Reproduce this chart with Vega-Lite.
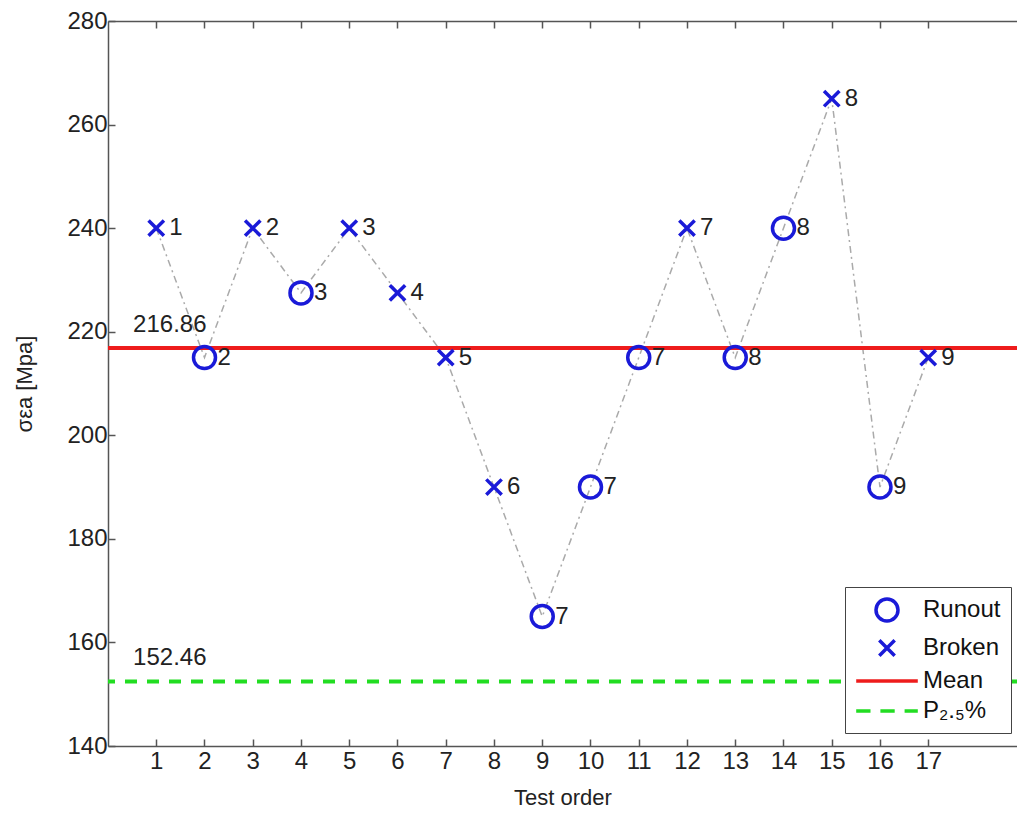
{
  "$schema": "https://vega.github.io/schema/vega-lite/v6.json",
  "width": 909,
  "height": 725,
  "autosize": {"type": "none"},
  "padding": {"left": 108, "top": 21, "right": 0, "bottom": 74},
  "background": "white",
  "config": {
    "view": {"stroke": null},
    "font": "Liberation Sans",
    "axis": {
      "domainColor": "#555555",
      "domainWidth": 1.5,
      "tickColor": "#555555",
      "tickWidth": 1.5,
      "grid": false,
      "labelFont": "Liberation Sans",
      "labelFontSize": 24,
      "labelColor": "#222222",
      "titleFont": "Liberation Sans",
      "titleFontSize": 22,
      "titleFontWeight": "normal",
      "titleColor": "#222222"
    }
  },
  "datasets": {
    "tests": [
      {"order": 1, "stress": 240, "series": "Broken", "rank": "1"},
      {"order": 2, "stress": 215, "series": "Runout", "rank": "2"},
      {"order": 3, "stress": 240, "series": "Broken", "rank": "2"},
      {"order": 4, "stress": 227.5, "series": "Runout", "rank": "3"},
      {"order": 5, "stress": 240, "series": "Broken", "rank": "3"},
      {"order": 6, "stress": 227.5, "series": "Broken", "rank": "4"},
      {"order": 7, "stress": 215, "series": "Broken", "rank": "5"},
      {"order": 8, "stress": 190, "series": "Broken", "rank": "6"},
      {"order": 9, "stress": 165, "series": "Runout", "rank": "7"},
      {"order": 10, "stress": 190, "series": "Runout", "rank": "7"},
      {"order": 11, "stress": 215, "series": "Runout", "rank": "7"},
      {"order": 12, "stress": 240, "series": "Broken", "rank": "7"},
      {"order": 13, "stress": 215, "series": "Runout", "rank": "8"},
      {"order": 14, "stress": 240, "series": "Runout", "rank": "8"},
      {"order": 15, "stress": 265, "series": "Broken", "rank": "8"},
      {"order": 16, "stress": 190, "series": "Runout", "rank": "9"},
      {"order": 17, "stress": 215, "series": "Broken", "rank": "9"}
    ],
    "levels": [
      {"series": "Mean", "value": 216.86, "text": "216.86"},
      {"series": "P₂.₅%", "value": 152.46, "text": "152.46"}
    ]
  },
  "layer": [
    {
      "data": {"name": "tests"},
      "mark": {"type": "line", "color": "#aaaaaa", "strokeWidth": 1.5, "strokeDash": [7, 4, 2, 4]},
      "encoding": {
        "x": {
          "field": "order", "type": "quantitative",
          "scale": {"domain": [0, 18.84], "nice": false, "zero": false},
          "axis": {"values": [1,2,3,4,5,6,7,8,9,10,11,12,13,14,15,16,17], "tickSize": -7, "labelPadding": 10, "title": "Test order", "titlePadding": 14, "labelFlush": false}
        },
        "y": {
          "field": "stress", "type": "quantitative",
          "scale": {"domain": [140, 280], "nice": false, "zero": false},
          "axis": {"values": [140,160,180,200,220,240,260,280], "tickSize": -7, "labelPadding": 8, "title": "σεa [Mpa]", "titlePadding": 30}
        },
        "order": {"field": "order"}
      }
    },
    {
      "data": {"name": "levels"},
      "transform": [{"filter": "datum.series == 'Mean'"}],
      "mark": {"type": "rule", "strokeWidth": 4},
      "encoding": {
        "y": {"field": "value", "type": "quantitative"},
        "color": {"field": "series", "type": "nominal"}
      }
    },
    {
      "data": {"name": "levels"},
      "transform": [{"filter": "datum.series != 'Mean'"}],
      "mark": {"type": "rule", "strokeWidth": 4, "strokeDash": [12, 10]},
      "encoding": {
        "y": {"field": "value", "type": "quantitative"},
        "color": {"field": "series", "type": "nominal"}
      }
    },
    {
      "data": {"name": "levels"},
      "mark": {"type": "text", "align": "left", "baseline": "alphabetic", "dy": -16, "fontSize": 24, "color": "#222222"},
      "encoding": {
        "x": {"datum": 0.52, "type": "quantitative", "axis": null},
        "y": {"field": "value", "type": "quantitative"},
        "text": {"field": "text"}
      }
    },
    {
      "data": {"name": "tests"},
      "mark": {"type": "point", "filled": false, "strokeWidth": 3.5, "size": 484, "opacity": 1},
      "encoding": {
        "x": {"field": "order", "type": "quantitative", "axis": null},
        "y": {"field": "stress", "type": "quantitative"},
        "color": {
          "field": "series", "type": "nominal",
          "scale": {"domain": ["Runout", "Broken", "Mean", "P₂.₅%"], "range": ["#1a1ad8", "#1a1ad8", "#ee1c1c", "#22dd22"]},
          "legend": {
            "title": null, "orient": "none", "legendX": 737, "legendY": 566,
            "direction": "vertical",
            "strokeColor": "#444444", "fillColor": "white", "padding": 10,
            "symbolSize": 484, "symbolStrokeWidth": 3.5, "symbolOffset": 19,
            "labelOffset": 23, "labelFontSize": 24, "labelColor": "#111111", "labelFont": "Liberation Sans",
            "rowPadding": 5
          }
        },
        "shape": {
          "field": "series", "type": "nominal",
          "scale": {"domain": ["Runout", "Broken", "Mean", "P₂.₅%"], "range": ["circle", "M-0.7,-0.7L0.7,0.7M-0.7,0.7L0.7,-0.7", "M-2.8,0H2.8", "M-2.8,0H-1.5M-0.6,0H0.7M1.6,0H2.8"]},
          "legend": {
            "title": null, "orient": "none", "legendX": 737, "legendY": 566,
            "direction": "vertical",
            "strokeColor": "#444444", "fillColor": "white", "padding": 10,
            "symbolSize": 484, "symbolStrokeWidth": 3.5, "symbolOffset": 19,
            "labelOffset": 23, "labelFontSize": 24, "labelColor": "#111111", "labelFont": "Liberation Sans",
            "rowPadding": 5
          }
        }
      }
    },
    {
      "data": {"name": "tests"},
      "mark": {"type": "text", "align": "left", "baseline": "middle", "dx": 13, "fontSize": 24, "color": "#222222"},
      "encoding": {
        "x": {
          "field": "order", "type": "quantitative",
          "axis": {"orient": "top", "values": [1,2,3,4,5,6,7,8,9,10,11,12,13,14,15,16,17], "tickSize": -7, "labels": false, "title": null}
        },
        "y": {"field": "stress", "type": "quantitative"},
        "text": {"field": "rank"}
      }
    }
  ],
  "resolve": {"axis": {"x": "independent"}}
}
